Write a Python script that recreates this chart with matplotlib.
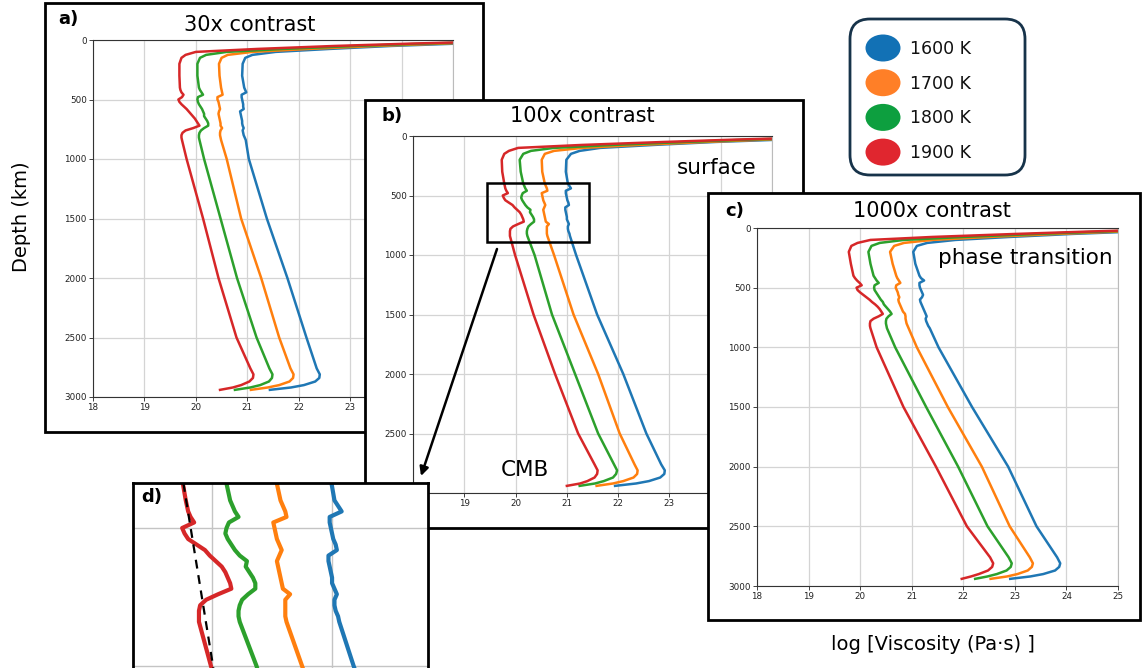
import matplotlib
matplotlib.use("Agg")
import matplotlib.pyplot as plt
from matplotlib.patches import Rectangle, FancyBboxPatch, Ellipse, FancyArrowPatch

# ---------------- data ----------------
TEMPS = ["1600 K", "1700 K", "1800 K", "1900 K"]
COLORS = ["#1f77b4", "#ff7f0e", "#2ca02c", "#d62728"]
LEGEND_COLORS = ["#1271b5", "#ff7f27", "#0d9f3f", "#e0262f"]

DEPTH_KM = [10, 30, 50, 75, 100, 125, 150, 200, 300, 400,
            420, 440, 460, 480, 500, 520, 540, 560, 580, 600, 620, 640, 660, 680,
            700, 720, 740, 760, 780, 800, 820, 840,
            1000, 1500, 2000, 2500, 2760, 2810, 2840, 2870, 2900, 2920, 2940]

# panel a) 30x contrast
A_1900 = [26.0, 24.2, 22.7, 21.2, 20.0, 19.8, 19.72, 19.68, 19.68, 19.69,
          19.70, 19.72, 19.76, 19.73, 19.66, 19.68, 19.72, 19.77, 19.82, 19.86, 19.90, 19.94, 19.98, 20.01,
          20.04, 20.07, 19.95, 19.80, 19.74, 19.72, 19.72, 19.73,
          19.82, 20.14, 20.44, 20.79, 21.06, 21.12, 21.11, 21.04, 20.88, 20.72, 20.47]
A_1800 = [26.0, 24.5, 23.1, 21.7, 20.6, 20.2, 20.08, 20.03, 20.03, 20.06,
          20.08, 20.11, 20.14, 20.04, 20.03, 20.04, 20.06, 20.09, 20.12, 20.14, 20.16, 20.16, 20.19, 20.22,
          20.24, 20.24, 20.16, 20.10, 20.07, 20.06, 20.06, 20.07,
          20.16, 20.48, 20.80, 21.18, 21.43, 21.49, 21.48, 21.42, 21.25, 21.06, 20.76]
A_1700 = [26.0, 24.8, 23.5, 22.2, 21.1, 20.62, 20.5, 20.45, 20.46, 20.49,
          20.50, 20.51, 20.52, 20.42, 20.42, 20.44, 20.45, 20.46, 20.47, 20.45, 20.44, 20.45, 20.46, 20.47,
          20.48, 20.48, 20.51, 20.48, 20.47, 20.47, 20.48, 20.49,
          20.60, 20.88, 21.27, 21.62, 21.84, 21.90, 21.89, 21.82, 21.62, 21.40, 21.07]
A_1600 = [26.0, 25.1, 23.8, 22.6, 21.55, 21.1, 20.96, 20.91, 20.90, 20.94,
          20.96, 20.98, 20.89, 20.89, 20.90, 20.91, 20.92, 20.92, 20.93, 20.86, 20.87, 20.88, 20.89, 20.90,
          20.90, 20.91, 20.93, 20.91, 20.92, 20.93, 20.95, 20.97,
          21.03, 21.38, 21.78, 22.15, 22.35, 22.41, 22.40, 22.32, 22.10, 21.85, 21.44]

# panel b) 100x contrast (also shown enlarged in d)
B_1900 = [26.0, 24.3, 22.9, 21.3, 20.05, 19.87, 19.78, 19.73, 19.74, 19.78,
          19.79, 19.80, 19.82, 19.85, 19.75, 19.77, 19.80, 19.87, 19.94, 19.98, 20.03, 20.08, 20.11, 20.13,
          20.15, 20.16, 20.05, 19.95, 19.90, 19.89, 19.89, 19.89,
          19.99, 20.35, 20.77, 21.22, 21.54, 21.60, 21.59, 21.54, 21.40, 21.26, 21.00]
B_1800 = [26.0, 24.6, 23.3, 21.9, 20.75, 20.3, 20.15, 20.08, 20.10, 20.15,
          20.17, 20.19, 20.22, 20.14, 20.12, 20.11, 20.13, 20.16, 20.19, 20.23, 20.29, 20.28, 20.31, 20.34,
          20.36, 20.36, 20.30, 20.25, 20.23, 20.22, 20.22, 20.23,
          20.37, 20.71, 21.16, 21.61, 21.92, 21.98, 21.96, 21.90, 21.72, 21.55, 21.25]
B_1700 = [26.0, 24.9, 23.7, 22.4, 21.3, 20.75, 20.57, 20.51, 20.52, 20.57,
          20.59, 20.61, 20.62, 20.51, 20.52, 20.53, 20.54, 20.56, 20.58, 20.56, 20.54, 20.55, 20.56, 20.57,
          20.58, 20.59, 20.65, 20.61, 20.61, 20.61, 20.61, 20.62,
          20.75, 21.13, 21.61, 22.03, 22.32, 22.38, 22.37, 22.30, 22.10, 21.90, 21.58]
B_1600 = [26.0, 25.2, 23.9, 22.7, 21.65, 21.25, 21.08, 20.99, 20.98, 21.02,
          21.05, 21.08, 20.98, 20.98, 20.99, 21.00, 21.01, 21.03, 21.04, 20.97, 20.97, 20.98, 20.99, 21.00,
          21.00, 21.02, 21.04, 21.02, 21.02, 21.03, 21.05, 21.06,
          21.18, 21.59, 22.10, 22.55, 22.84, 22.91, 22.90, 22.82, 22.60, 22.35, 21.94]

# panel c) 1000x contrast
C_1900 = [26.0, 24.4, 23.0, 21.4, 20.2, 19.95, 19.83, 19.78, 19.82, 19.87,
          19.90, 19.94, 19.99, 20.03, 19.93, 19.95, 20.00, 20.06, 20.12, 20.18, 20.23, 20.29, 20.34, 20.38,
          20.41, 20.44, 20.36, 20.26, 20.20, 20.19, 20.19, 20.20,
          20.32, 20.84, 21.47, 22.07, 22.52, 22.58, 22.56, 22.48, 22.30, 22.15, 21.97]
C_1800 = [26.0, 24.7, 23.4, 22.0, 20.85, 20.38, 20.22, 20.16, 20.20, 20.26,
          20.29, 20.32, 20.36, 20.28, 20.27, 20.28, 20.31, 20.34, 20.37, 20.40, 20.44, 20.46, 20.50, 20.54,
          20.58, 20.61, 20.55, 20.51, 20.50, 20.50, 20.51, 20.52,
          20.68, 21.28, 21.90, 22.47, 22.88, 22.94, 22.92, 22.84, 22.65, 22.47, 22.23]
C_1700 = [26.0, 25.0, 23.8, 22.5, 21.4, 20.85, 20.66, 20.58, 20.63, 20.70,
          20.72, 20.75, 20.78, 20.70, 20.69, 20.71, 20.73, 20.74, 20.76, 20.74, 20.75, 20.77, 20.79, 20.81,
          20.83, 20.87, 20.88, 20.88, 20.89, 20.90, 20.92, 20.94,
          21.10, 21.70, 22.36, 22.90, 23.29, 23.35, 23.33, 23.25, 23.05, 22.85, 22.53]
C_1600 = [26.0, 25.3, 24.1, 22.9, 21.85, 21.30, 21.10, 21.03, 21.07, 21.15,
          21.18, 21.24, 21.15, 21.15, 21.16, 21.18, 21.20, 21.22, 21.20, 21.16, 21.17, 21.19, 21.21, 21.23,
          21.25, 21.27, 21.29, 21.27, 21.28, 21.30, 21.32, 21.35,
          21.52, 22.17, 22.87, 23.42, 23.82, 23.88, 23.86, 23.78, 23.55, 23.30, 22.91]

# dashed reference line in d)
DASH_DEPTH = [337, 1007]
DASH_VISC = [19.76, 20.01]

X_TICKS = [18, 19, 20, 21, 22, 23, 24, 25]
Y_TICKS = [0, 500, 1000, 1500, 2000, 2500, 3000]

# ---------------- layout helpers (pixels -> figure fractions) ----------------
W, H = 1142, 668
fig = plt.figure(figsize=(W / 100, H / 100), dpi=100)
fig.patch.set_facecolor("white")


def frect(x0, y0, x1, y1):
    return [x0 / W, 1 - y1 / H, (x1 - x0) / W, (y1 - y0) / H]


def fx(x):
    return x / W


def fy(y):
    return 1 - y / H


def panel_box(x0, y0, x1, y1, z):
    r = Rectangle((fx(x0), fy(y1)), (x1 - x0) / W, (y1 - y0) / H,
                  transform=fig.transFigure, facecolor="white",
                  edgecolor="black", linewidth=2.0, zorder=z)
    fig.add_artist(r)


def style_axes(ax):
    ax.set_xlim(18, 25)
    ax.set_ylim(3000, 0)
    ax.set_xticks(X_TICKS)
    ax.set_yticks(Y_TICKS)
    ax.grid(True, color="#d4d4d4", linewidth=0.9)
    ax.set_axisbelow(True)
    ax.tick_params(labelsize=6.3, length=3, width=0.6, colors="#222222", pad=1.5)
    for s in ["left", "bottom", "top"]:
        ax.spines[s].set_color("#333333")
        ax.spines[s].set_linewidth(0.8)
    ax.spines["right"].set_color("#bbbbbb")
    ax.spines["right"].set_linewidth(0.8)


def draw_curves(ax, series, lw):
    # draw 1600 first, 1900 last (red on top)
    for vals, c in zip(series, COLORS):
        ax.plot(vals, DEPTH_KM, color=c, linewidth=lw, solid_joinstyle="round")


# ---------------- panel a ----------------
panel_box(45, 3, 483, 432, 1)
axa = fig.add_axes(frect(93, 40, 453, 397), zorder=2)
style_axes(axa)
draw_curves(axa, [A_1600, A_1700, A_1800, A_1900], 1.8)
fig.text(fx(68), fy(19), "a)", fontsize=13, fontweight="bold", ha="center", va="center", zorder=2.5)
fig.text(fx(250), fy(25), "30x contrast", fontsize=15, ha="center", va="center", zorder=2.5)

# ---------------- panel b ----------------
panel_box(365, 100, 803, 528, 3)
axb = fig.add_axes(frect(413, 136, 772, 493), zorder=4)
style_axes(axb)
draw_curves(axb, [B_1600, B_1700, B_1800, B_1900], 1.8)
axb.add_patch(Rectangle((19.44, 396), 21.43 - 19.44, 894 - 396, fill=False,
                        edgecolor="black", linewidth=1.8, zorder=5))
fig.text(fx(392), fy(116), "b)", fontsize=13, fontweight="bold", ha="center", va="center", zorder=4.5)
fig.text(fx(582), fy(116), "100x contrast", fontsize=15, ha="center", va="center", zorder=4.5)
fig.text(fx(717), fy(168), "surface", fontsize=15.5, ha="center", va="center", zorder=4.5)
fig.text(fx(525), fy(470), "CMB", fontsize=15.5, ha="center", va="center", zorder=4.5)

# ---------------- panel c ----------------
panel_box(708, 193, 1140, 620, 5)
axc = fig.add_axes(frect(757, 228, 1118, 586), zorder=6)
style_axes(axc)
draw_curves(axc, [C_1600, C_1700, C_1800, C_1900], 1.8)
fig.text(fx(735), fy(211), "c)", fontsize=13, fontweight="bold", ha="center", va="center", zorder=6.5)
fig.text(fx(932), fy(211), "1000x contrast", fontsize=15, ha="center", va="center", zorder=6.5)
fig.text(fx(1025), fy(258), "phase transition", fontsize=15.5, ha="center", va="center", zorder=6.5)

# ---------------- panel d (zoom of the box in b) ----------------
axd = fig.add_axes(frect(133, 483, 428, 700), zorder=7)
axd.set_xlim(19.34, 21.80)
axd.set_ylim(337 + 217 / 0.276, 337)
axd.set_xticks([20, 21])
axd.set_yticks([500, 1000])
axd.tick_params(left=False, bottom=False, labelleft=False, labelbottom=False)
axd.grid(True, color="#c4c4c4", linewidth=1.0)
axd.set_axisbelow(True)
for s in axd.spines.values():
    s.set_color("black")
    s.set_linewidth(2.0)
draw_curves(axd, [B_1600, B_1700, B_1800, B_1900], 3.0)
axd.plot(DASH_VISC, DASH_DEPTH, color="black", linewidth=1.6, linestyle=(0, (4, 3)))
fig.text(fx(152), fy(497), "d)", fontsize=13, fontweight="bold", ha="center", va="center", zorder=7.5)

# ---------------- overlay: arrow, legend, shared labels ----------------
ov = fig.add_axes([0, 0, 1, 1], zorder=9)
ov.set_xlim(0, W)
ov.set_ylim(H, 0)
ov.axis("off")
ov.patch.set_alpha(0)

ov.add_patch(FancyArrowPatch((497, 249), (421, 476), arrowstyle="-|>", mutation_scale=13,
                             color="black", linewidth=1.8, shrinkA=0, shrinkB=0))

ov.add_patch(FancyBboxPatch((850, 19), 175, 156, boxstyle="round,pad=0,rounding_size=20",
                            facecolor="white", edgecolor="#17334a", linewidth=2.0))
for i, (lab, c) in enumerate(zip(TEMPS, LEGEND_COLORS)):
    yy = 48 + i * 34.7
    ov.add_patch(Ellipse((883, yy), 35, 27, facecolor=c, edgecolor="none"))
    ov.text(910, yy + 1, lab, fontsize=12.5, ha="left", va="center", color="#111111")

fig.text(fx(22), fy(217), "Depth (km)", fontsize=14, rotation=90, ha="center", va="center")
fig.text(fx(933), fy(645), "log [Viscosity (Pa\u00b7s) ]", fontsize=14, ha="center", va="center")

fig.savefig("out.png", dpi=100)
